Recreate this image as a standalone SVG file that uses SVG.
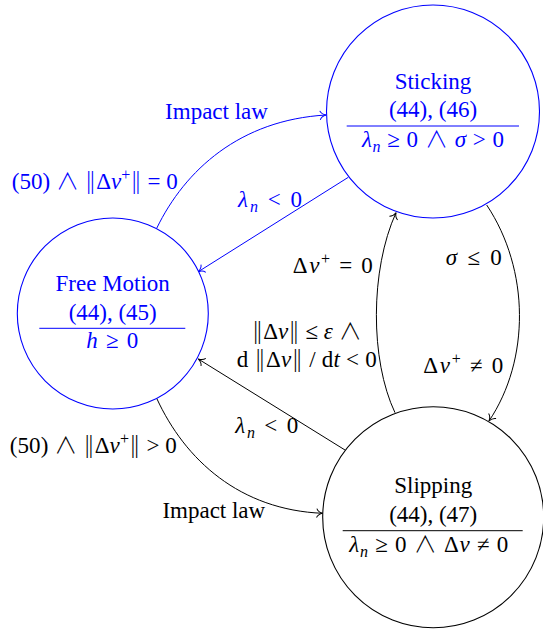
<svg xmlns="http://www.w3.org/2000/svg" width="543" height="630" viewBox="0 0 543 630">
<style>
text{font-family:'Liberation Serif','Times New Roman',serif;font-size:23px;text-anchor:middle}
.b{fill:#0000ff}
.k{fill:#000}
.i{font-style:italic}
.s{font-family:'DejaVu Sans',sans-serif;font-weight:200}
.w{font-family:'Noto Sans CJK SC','DejaVu Sans',sans-serif;font-weight:300}
.node{fill:#fff;stroke-width:1.1}
.edge{fill:none;stroke-width:1}
.bl{stroke:#0000ff}
.kl{stroke:#000}
</style>
<defs>
<marker id="ab" markerUnits="userSpaceOnUse" markerWidth="14" markerHeight="14" refX="0" refY="0" orient="auto" overflow="visible">
<path d="M-6,-4.5 C-5,-2 -2,-0.5 0,0 C-2,0.5 -5,2 -6,4.5" fill="none" stroke="#0000ff" stroke-width="1"/>
</marker>
<marker id="ak" markerUnits="userSpaceOnUse" markerWidth="14" markerHeight="14" refX="0" refY="0" orient="auto" overflow="visible">
<path d="M-6,-4.5 C-5,-2 -2,-0.5 0,0 C-2,0.5 -5,2 -6,4.5" fill="none" stroke="#000" stroke-width="1"/>
</marker>
</defs>

<g id="connectors">
<path class="edge bl" d="M156.7,228.3 C185,170 240,120 326,115" marker-end="url(#ab)"/>
<path class="edge bl" d="M348.3,177.3 L198.3,271.7" marker-end="url(#ab)"/>
<path class="edge kl" d="M486.7,205 C530,270 530,360 489,421" marker-end="url(#ak)"/>
<path class="edge kl" d="M395,412.7 C370,360 370,270 396,212.7" marker-end="url(#ak)"/>
<path class="edge kl" d="M345,450 L198.3,359" marker-end="url(#ak)"/>
<path class="edge kl" d="M156.7,398.3 C185,460 240,510 322.7,513.3" marker-end="url(#ak)"/>

<text class="b" x="216.5" y="119.3">Impact law</text>
<text class="b" x="94.8" y="189.3" textLength="166" lengthAdjust="spacing">(50) <tspan class="w">∧</tspan> <tspan class="s">‖</tspan>Δ<tspan class="i">v</tspan><tspan dy="-9" font-size="16">+</tspan><tspan dy="9" class="s">‖</tspan> = 0</text>
<text class="b" x="270" y="206.7" textLength="64" lengthAdjust="spacing"><tspan class="i">λ</tspan><tspan class="i" dy="5" font-size="16">n</tspan><tspan dy="-5"> &lt; 0</tspan></text>
<text class="k" x="332.7" y="273.3" textLength="80" lengthAdjust="spacing">Δ<tspan class="i">v</tspan><tspan dy="-9" font-size="16">+</tspan><tspan dy="9"> = 0</tspan></text>
<text class="k" x="306.7" y="339.3" textLength="110" lengthAdjust="spacing"><tspan class="s">‖</tspan>Δ<tspan class="i">v</tspan><tspan class="s">‖</tspan> ≤ <tspan class="i">ε</tspan> <tspan class="w">∧</tspan></text>
<text class="k" x="306.7" y="367.3" textLength="140" lengthAdjust="spacing">d <tspan class="s">‖</tspan>Δ<tspan class="i">v</tspan><tspan class="s">‖</tspan> / d<tspan class="i">t</tspan> &lt; 0</text>
<text class="k" x="473.8" y="265" textLength="56" lengthAdjust="spacing"><tspan class="i">σ</tspan> ≤ 0</text>
<text class="k" x="463.3" y="372.7" textLength="80" lengthAdjust="spacing">Δ<tspan class="i">v</tspan><tspan dy="-9" font-size="16">+</tspan><tspan dy="9"> ≠ 0</tspan></text>
<text class="k" x="266.7" y="433.3" textLength="63" lengthAdjust="spacing"><tspan class="i">λ</tspan><tspan class="i" dy="5" font-size="16">n</tspan><tspan dy="-5"> &lt; 0</tspan></text>
<text class="k" x="93.3" y="453.3" textLength="167" lengthAdjust="spacing">(50) <tspan class="w">∧</tspan> <tspan class="s">‖</tspan>Δ<tspan class="i">v</tspan><tspan dy="-9" font-size="16">+</tspan><tspan dy="9" class="s">‖</tspan> &gt; 0</text>
<text class="k" x="213.8" y="518.3">Impact law</text>
</g>

<g id="sticking">
<circle class="node bl" cx="433" cy="111.5" r="106.5"/>
<text class="b" x="433" y="89">Sticking</text>
<text class="b" x="433" y="117">(44), (46)</text>
<line class="edge bl" x1="346.7" y1="126" x2="519" y2="126"/>
<text class="b" x="433" y="146.7" textLength="142" lengthAdjust="spacing"><tspan class="i">λ</tspan><tspan class="i" dy="5" font-size="16">n</tspan><tspan dy="-5"> ≥ 0 </tspan><tspan class="w">∧</tspan> <tspan class="i">σ</tspan> &gt; 0</text>
</g>

<g id="free-motion">
<circle class="node bl" cx="112.8" cy="313.5" r="95.5"/>
<text class="b" x="112.7" y="291">Free Motion</text>
<text class="b" x="112.7" y="320">(44), (45)</text>
<line class="edge bl" x1="39.3" y1="328.3" x2="185.3" y2="328.3"/>
<text class="b" x="112.2" y="348.3" textLength="52" lengthAdjust="spacing"><tspan class="i">h</tspan> ≥ 0</text>
</g>

<g id="slipping">
<circle class="node kl" cx="433.2" cy="517.2" r="110.5"/>
<text class="k" x="433.2" y="493.3">Slipping</text>
<text class="k" x="433.2" y="521.7">(44), (47)</text>
<line class="edge kl" x1="342.7" y1="530.7" x2="522.7" y2="530.7"/>
<text class="k" x="428.8" y="551.7" textLength="159" lengthAdjust="spacing"><tspan class="i">λ</tspan><tspan class="i" dy="5" font-size="16">n</tspan><tspan dy="-5"> ≥ 0 </tspan><tspan class="w">∧</tspan> Δ<tspan class="i">v</tspan> ≠ 0</text>
</g>
</svg>
